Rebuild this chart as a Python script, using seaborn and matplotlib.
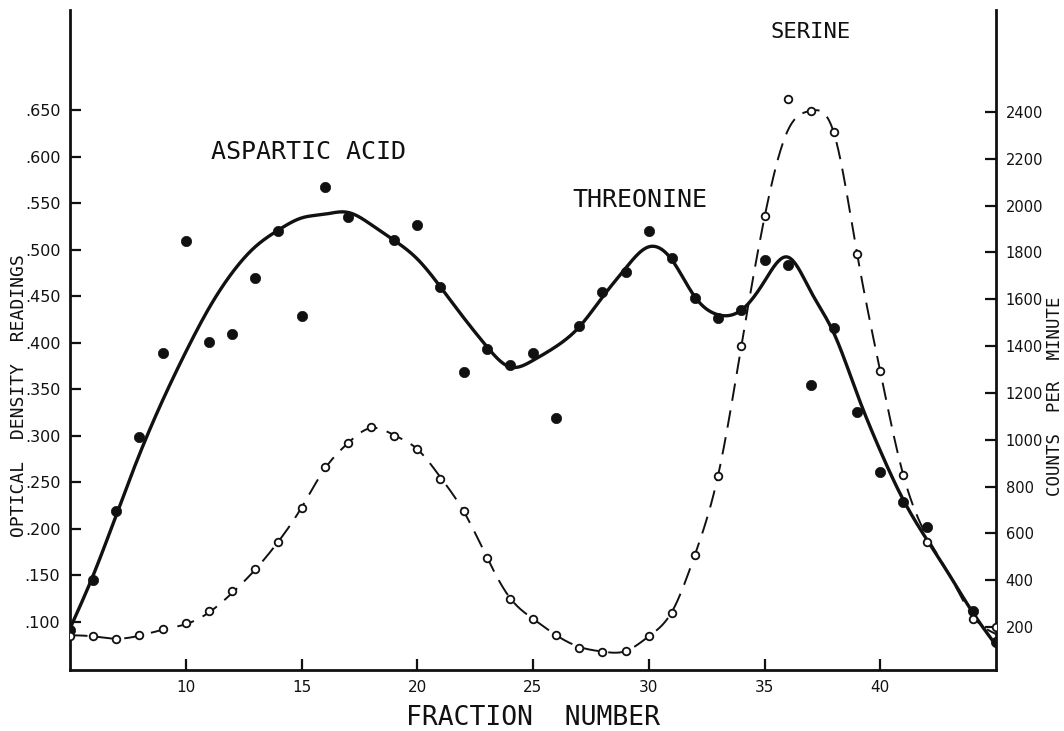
import numpy as np
import pandas as pd
import matplotlib
matplotlib.use("Agg")
import matplotlib.pyplot as plt
import seaborn as sns

# Optical density readings (filled dots)
od_fraction = [5, 6, 7, 8, 9, 10, 11, 12, 13, 14, 15, 16, 17, 19, 20, 21, 22, 23, 24, 25,
               26, 27, 28, 29, 30, 31, 32, 33, 34, 35, 36, 37, 38, 39, 40, 41, 42, 44, 45]
od_value = [.091, .145, .219, .299, .389, .509, .401, .409, .469, .520, .429, .567, .535,
            .510, .526, .460, .369, .393, .376, .389, .319, .418, .455, .476, .520, .491,
            .448, .426, .435, .489, .484, .355, .416, .326, .261, .229, .202, .112, .078]

# Radioactivity, counts per minute (open circles)
cpm_fraction = [5, 6, 7, 8, 9, 10, 11, 12, 13, 14, 15, 16, 17, 18, 19, 20, 21, 22, 23, 24,
                25, 26, 27, 28, 29, 30, 31, 32, 33, 34, 35, 36, 37, 38, 39, 40, 41, 42, 44, 45]
cpm_value = [162, 160, 149, 166, 191, 217, 268, 354, 448, 564, 710, 882, 984, 1053, 1015,
             962, 834, 697, 495, 320, 234, 166, 111, 94, 97, 161, 261, 508, 845, 1400, 1954,
             2457, 2406, 2316, 1795, 1292, 848, 564, 235, 200]

# Hand-faired curves: values of each curve at every fraction
curve_fraction = list(range(5, 46))
od_curve = [.093, .150, .215, .280, .338, .390, .437, .475, .503, .521, .534, .538, .540,
            .527, .510, .490, .460, .427, .396, .374, .381, .396, .417, .449, .480, .503,
            .489, .449, .430, .435, .466, .492, .455, .410, .345, .284, .231, .189, .150,
            .110, .075]
cpm_curve = [165, 160, 150, 163, 188, 212, 262, 345, 445, 565, 710, 875, 985, 1050, 1020,
             960, 840, 695, 500, 325, 235, 165, 115, 95, 97, 160, 265, 510, 850, 1400, 1950,
             2320, 2405, 2310, 1795, 1292, 848, 590, 420, 245, 170]

od_ticks = [.100, .150, .200, .250, .300, .350, .400, .450, .500, .550, .600, .650]
cpm_ticks = [200, 400, 600, 800, 1000, 1200, 1400, 1600, 1800, 2000, 2200, 2400]
fraction_ticks = [10, 15, 20, 25, 30, 35, 40]


def natural_spline(x, y, xs):
    x = np.asarray(x, float)
    y = np.asarray(y, float)
    n = len(x)
    h = np.diff(x)
    A = np.zeros((n, n))
    r = np.zeros(n)
    A[0, 0] = A[-1, -1] = 1.0
    for i in range(1, n - 1):
        A[i, i - 1] = h[i - 1]
        A[i, i] = 2 * (h[i - 1] + h[i])
        A[i, i + 1] = h[i]
        r[i] = 3 * ((y[i + 1] - y[i]) / h[i] - (y[i] - y[i - 1]) / h[i - 1])
    c = np.linalg.solve(A, r)
    b = (y[1:] - y[:-1]) / h - h * (2 * c[:-1] + c[1:]) / 3
    d = (c[1:] - c[:-1]) / (3 * h)
    idx = np.clip(np.searchsorted(x, xs) - 1, 0, n - 2)
    dx = xs - x[idx]
    return y[idx] + b[idx] * dx + c[idx] * dx ** 2 + d[idx] * dx ** 3


sns.set_style("ticks")
plt.rcParams["font.family"] = ["DejaVu Sans"]
ink = "#111111"

fig = plt.figure(figsize=(10.64, 7.31), dpi=100)
ax = fig.add_axes([70 / 1064, 1 - 670 / 731, (996 - 70) / 1064, 660 / 731])
ax2 = ax.twinx()

xs = np.linspace(5, 45, 800)
od_smooth = pd.DataFrame({"fraction": xs, "od": natural_spline(curve_fraction, od_curve, xs)})
cpm_smooth = pd.DataFrame({"fraction": xs, "cpm": natural_spline(curve_fraction, cpm_curve, xs)})
od_df = pd.DataFrame({"fraction": od_fraction, "od": od_value})
cpm_df = pd.DataFrame({"fraction": cpm_fraction, "cpm": cpm_value})

# Optical density: solid curve with filled dots
sns.lineplot(data=od_smooth, x="fraction", y="od", ax=ax, color=ink, lw=2.4,
             sort=False, zorder=2)
sns.scatterplot(data=od_df, x="fraction", y="od", ax=ax, color=ink, s=55,
                edgecolor=ink, linewidth=0.5, zorder=3)

# Counts per minute: dashed curve with open circles
sns.lineplot(data=cpm_smooth, x="fraction", y="cpm", ax=ax2, color=ink, lw=1.4,
             sort=False, zorder=2)
ax2.lines[-1].set_dashes((9, 5))
sns.scatterplot(data=cpm_df, x="fraction", y="cpm", ax=ax2, facecolor="white",
                edgecolor=ink, s=30, linewidth=1.3, zorder=3)

ax.set_xlim(5, 45)
ax.set_ylim(.0484, .7574)
ax2.set_ylim(16.3, 2836)

ax.set_xticks(fraction_ticks)
ax.set_xticklabels([str(t) for t in fraction_ticks], fontsize=11)
ax.set_yticks(od_ticks)
ax.set_yticklabels([("%.3f" % t)[1:] for t in od_ticks], fontsize=11.5)
ax2.set_yticks(cpm_ticks)
ax2.set_yticklabels([str(t) for t in cpm_ticks], fontsize=10.5)

for a in (ax, ax2):
    a.tick_params(direction="in", length=8, width=1.6, colors=ink, pad=7)
    a.spines["top"].set_visible(False)
    for s in ("left", "right", "bottom"):
        a.spines[s].set_linewidth(2.0)
        a.spines[s].set_color(ink)
ax.spines["right"].set_visible(False)
ax2.spines["left"].set_visible(False)
ax2.spines["bottom"].set_visible(False)

mono = "DejaVu Sans Mono"
ax.set_xlabel("FRACTION  NUMBER", fontsize=19, family=mono, color=ink, va="center")
ax.xaxis.set_label_coords(0.5, -0.0727)
ax.set_ylabel("OPTICAL  DENSITY  READINGS", fontsize=13, family=mono, color=ink,
              va="center")
ax.yaxis.set_label_coords(-0.055, 0.415)
ax2.set_ylabel("COUNTS  PER  MINUTE", fontsize=12.5, family=mono, color=ink,
               rotation=90, va="center")
ax2.yaxis.set_label_coords(1.0635, 0.415)

ax.text(15.3, .605, "ASPARTIC ACID", fontsize=18, family=mono, color=ink,
        ha="center", va="center")
ax.text(29.6, .553, "THREONINE", fontsize=18, family=mono, color=ink,
        ha="center", va="center")
ax.text(37.0, .734, "SERINE", fontsize=16, family=mono, color=ink,
        ha="center", va="center")

fig.savefig("out.png", dpi=100, facecolor="white")
